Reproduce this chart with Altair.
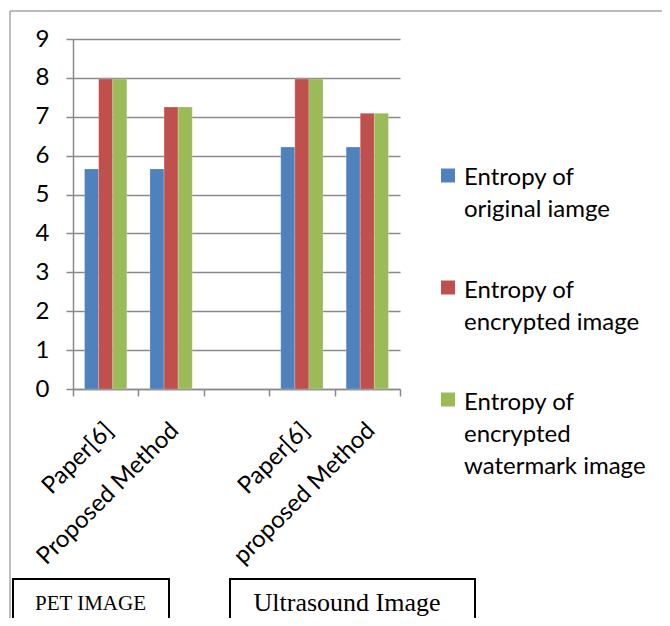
import altair as alt
import pandas as pd

# ---------------- data ----------------
category_keys = ["pet_paper", "pet_proposed", "gap", "us_paper", "us_proposed"]
category_labels = ["Paper[6]", "Proposed Method", "", "Paper[6]", "proposed Method"]
series_names = ["Entropy of original iamge", "Entropy of encrypted image",
                "Entropy of encrypted watermark image"]
legend_texts = ["Entropy of\noriginal iamge", "Entropy of\nencrypted image",
                "Entropy of\nencrypted\nwatermark image"]
series_colors = ["#4F81BD", "#C0504D", "#9BBB59"]
entropy_original = [5.66, 5.66, None, 6.22, 6.22]
entropy_encrypted = [7.97, 7.25, None, 7.97, 7.09]
entropy_watermark = [7.97, 7.25, None, 7.97, 7.09]
y_ticks = list(range(10))
box_labels = ["PET IMAGE", "Ultrasound Image"]

rows = []
for s, vals in zip(series_names, [entropy_original, entropy_encrypted, entropy_watermark]):
    for k, v in zip(category_keys, vals):
        if v is not None:
            rows.append({"cat": k, "series": s, "value": v})
df = pd.DataFrame(rows)

label_expr = ""
for k, l in zip(category_keys, category_labels):
    label_expr += f"datum.value == '{k}' ? '{l}' : "
label_expr += "''"

GRID = "#8a8a8a"
FONT = "Lato"
W, H = 327, 350

color_scale = alt.Scale(domain=series_names, range=series_colors)

bars = alt.Chart(df).mark_bar(stroke="#ffffff", strokeOpacity=0.35, strokeWidth=0.6).encode(
    x=alt.X("cat:N", sort=category_keys,
            scale=alt.Scale(domain=category_keys, paddingInner=0, paddingOuter=0),
            axis=alt.Axis(title=None, labelExpr=label_expr, labelAngle=-45,
                          labelAlign="right", labelBaseline="top",
                          labelOffset=-5, labelPadding=22, labelLimit=400,
                          labelFont=FONT, labelFontSize=24, labelColor="#000000",
                          tickBand="extent", tickSize=7, tickColor=GRID, tickWidth=1.5,
                          domainColor=GRID, domainWidth=1.5, grid=False,
                          labelOverlap=False)),
    xOffset=alt.XOffset("series:N", sort=series_names,
                        scale=alt.Scale(domain=series_names, paddingInner=0, paddingOuter=0.82)),
    y=alt.Y("value:Q", scale=alt.Scale(domain=[0, 9], nice=False),
            axis=alt.Axis(title=None, values=y_ticks, format="d",
                          labelFont=FONT, labelFontSize=24, labelColor="#000000",
                          labelPadding=17, tickSize=7, tickColor=GRID, tickWidth=1.5,
                          domainColor=GRID, domainWidth=1.5,
                          grid=True, gridColor=GRID, gridWidth=1.5)),
    color=alt.Color("series:N", scale=color_scale, legend=None),
)

one = pd.DataFrame({"a": [0]})

# outer frame (page coords -> plot coords: x-73, y-39)
frame_left = alt.Chart(one).mark_rule(color="#a6a6a6", strokeWidth=1.5).encode(
    x=alt.value(-63), y=alt.value(-28), y2=alt.value(600))
frame_top = alt.Chart(one).mark_rule(color="#a6a6a6", strokeWidth=1.5).encode(
    x=alt.value(-63), x2=alt.value(600), y=alt.value(-28))

# boxes at bottom
box1 = alt.Chart(one).mark_rect(fillOpacity=0, stroke="#000000", strokeWidth=2).encode(
    x=alt.value(-60), x2=alt.value(96), y=alt.value(540), y2=alt.value(620))
box2 = alt.Chart(one).mark_rect(fillOpacity=0, stroke="#000000", strokeWidth=2).encode(
    x=alt.value(157), x2=alt.value(402), y=alt.value(540), y2=alt.value(620))
txt1 = alt.Chart(pd.DataFrame({"t": [box_labels[0]]})).mark_text(
    font="Liberation Serif", fontSize=21, align="center", baseline="alphabetic", color="#000000"
).encode(x=alt.value(17.5), y=alt.value(571), text="t:N")
txt2 = alt.Chart(pd.DataFrame({"t": [box_labels[1]]})).mark_text(
    font="Liberation Serif", fontSize=26, align="center", baseline="alphabetic", color="#000000"
).encode(x=alt.value(274), y=alt.value(572), text="t:N")

# legend
legend_layers = []
for i, (s, t) in enumerate(zip(series_names, legend_texts)):
    d = pd.DataFrame({"series": [s], "label": [t]})
    sq = alt.Chart(d).mark_square(size=196, opacity=1, filled=True).encode(
        x=alt.value(375), y=alt.value(136.5 + i * 112),
        color=alt.Color("series:N", scale=color_scale, legend=None))
    tx = alt.Chart(d).mark_text(font=FONT, fontSize=24, align="left", baseline="alphabetic",
                                lineBreak="\n", lineHeight=32, color="#000000").encode(
        x=alt.value(391), y=alt.value(146 + i * 112.5), text="label:N")
    legend_layers += [sq, tx]

chart = alt.layer(frame_left, frame_top, bars, box1, box2, txt1, txt2, *legend_layers).properties(
    width=W, height=H,
    autosize=alt.AutoSizeParams(type="none"),
    padding={"left": 65, "top": 31, "right": 262, "bottom": 229},
    background="#ffffff",
).configure_view(stroke=None)

chart.save("out.html", embed_options={"renderer": "svg", "actions": False})
